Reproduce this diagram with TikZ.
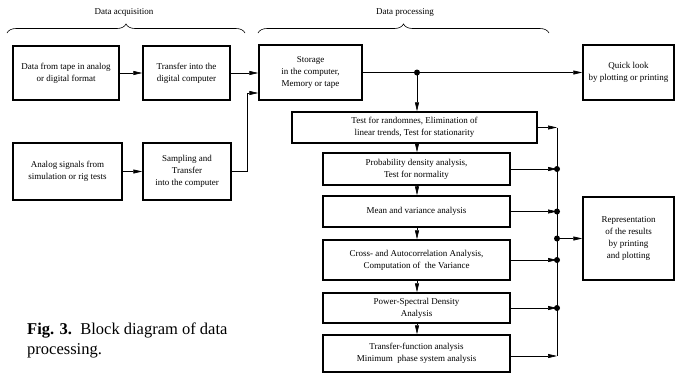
\documentclass[tikz,border=0pt]{standalone}
\usepackage{fontspec}
\setmainfont{Liberation Serif}
\usetikzlibrary{arrows.meta, positioning, calc, decorations.pathreplacing}

\begin{document}
\begin{tikzpicture}[
  x=1pt, y=-1pt,
  every node/.style={font=\fontsize{9}{12}\selectfont, text centered, align=center, inner sep=1pt},
  block/.style={rectangle, draw, line width=1.4pt},
  link/.style={draw, line width=0.6pt, -{Triangle[length=9pt,width=4pt]}},
  bus/.style={draw, line width=0.6pt},
  dot/.style={circle, fill, inner sep=0pt, minimum size=6pt},
  grp/.style={draw, line width=0.6pt, decorate, decoration={brace, amplitude=9pt}}
]
\useasboundingbox (0,0) rectangle (675,378);

% group labels
\node (acq) at (124,12) {Data acquisition};
\node (proc) at (405,12) {Data processing};
\draw[grp] (7,33) -- (245,33);
\draw[grp] (258,33) -- (549,33);

% acquisition
\node[block, minimum width=106pt, minimum height=54pt] (tape) at (66,73) {Data from tape in analog\\or digital format};
\node[block, minimum width=87pt, minimum height=54pt] (xfer) at (186.5,73) {Transfer into the\\digital computer};
\node[block, minimum width=109pt, minimum height=57pt] (analog) at (67.5,171.5) {Analog signals from\\simulation or rig tests};
\node[block, minimum width=88pt, minimum height=57pt] (sampl) at (187,171.5) {Sampling and\\Transfer\\into the computer};

% processing
\node[block, minimum width=103pt, minimum height=55pt] (store) at (310.5,72.5) {Storage\\in the computer,\\Memory or tape};
\node[block, minimum width=91pt, minimum height=55pt] (quick) at (628.5,72.5) {Quick look\\by plotting or printing};
\node[block, minimum width=245pt, minimum height=31pt] (test) at (414.5,127.5) {Test for randomnes, Elimination of\\linear trends, Test for stationarity};
\node[block, minimum width=187pt, minimum height=32pt] (prob) at (416.5,169) {Probability density analysis,\\Test for normality};
\node[block, minimum width=187pt, minimum height=31pt] (mean) at (416.5,211.5) {Mean and variance analysis};
\node[block, minimum width=187pt, minimum height=40pt] (cross) at (416.5,260) {Cross- and Autocorrelation Analysis,\\Computation of\ \ the Variance};
\node[block, minimum width=187pt, minimum height=30pt] (power) at (416.5,308) {Power-Spectral Density\\Analysis};
\node[block, minimum width=187pt, minimum height=37pt] (tfa) at (416.5,353.5) {Transfer-function analysis\\Minimum\ \ phase system analysis};
\node[block, minimum width=91pt, minimum height=83pt] (repr) at (628.5,238.5) {Representation\\of the results\\by printing\\and plotting};

% caption
\node[anchor=north west, align=left, inner sep=0pt, font=\fontsize{16.5}{20}\selectfont] (cap) at (27,323)
  {\textbf{Fig. 3.}\ \ Block diagram of data\\processing.};

% connectors
\draw[link] (tape) -- (xfer);
\draw[link] (analog) -- (sampl);
\draw[link] (xfer.east) -- (xfer.east -| store.west);
\draw[link] (sampl.east) -- ++(16,0) |- ([yshift=-20.5pt]store.west);

\coordinate (split) at (417,72.5);
\draw[link] (store.east) -- (quick.west);
\node[dot] (sd) at (split) {};
\draw[link] (split) -- (test.north -| split);
\draw[link] (test.south -| split) -- (prob.north -| split);
\draw[link] (prob.south -| split) -- (mean.north -| split);
\draw[link] (mean.south -| split) -- (cross.north -| split);
\draw[link] (cross.south -| split) -- (power.north -| split);
\draw[link] (power.south -| split) -- (tfa.north -| split);

% results bus
\coordinate (btop) at (557,127.5);
\coordinate (bbot) at (557,356);
\draw[bus] (btop) -- (bbot);
\draw[link] (test.east) -- (btop);
\draw[link] (tfa.east |- bbot) -- (bbot);
\foreach \b in {prob, mean, cross, power} {
  \draw[link] (\b.east) -- (\b.east -| btop);
  \node[dot] at (\b.east -| btop) {};
}
\node[dot] (rd) at (btop |- repr.west) {};
\draw[link] (rd) -- (repr.west);

\end{tikzpicture}
\end{document}
